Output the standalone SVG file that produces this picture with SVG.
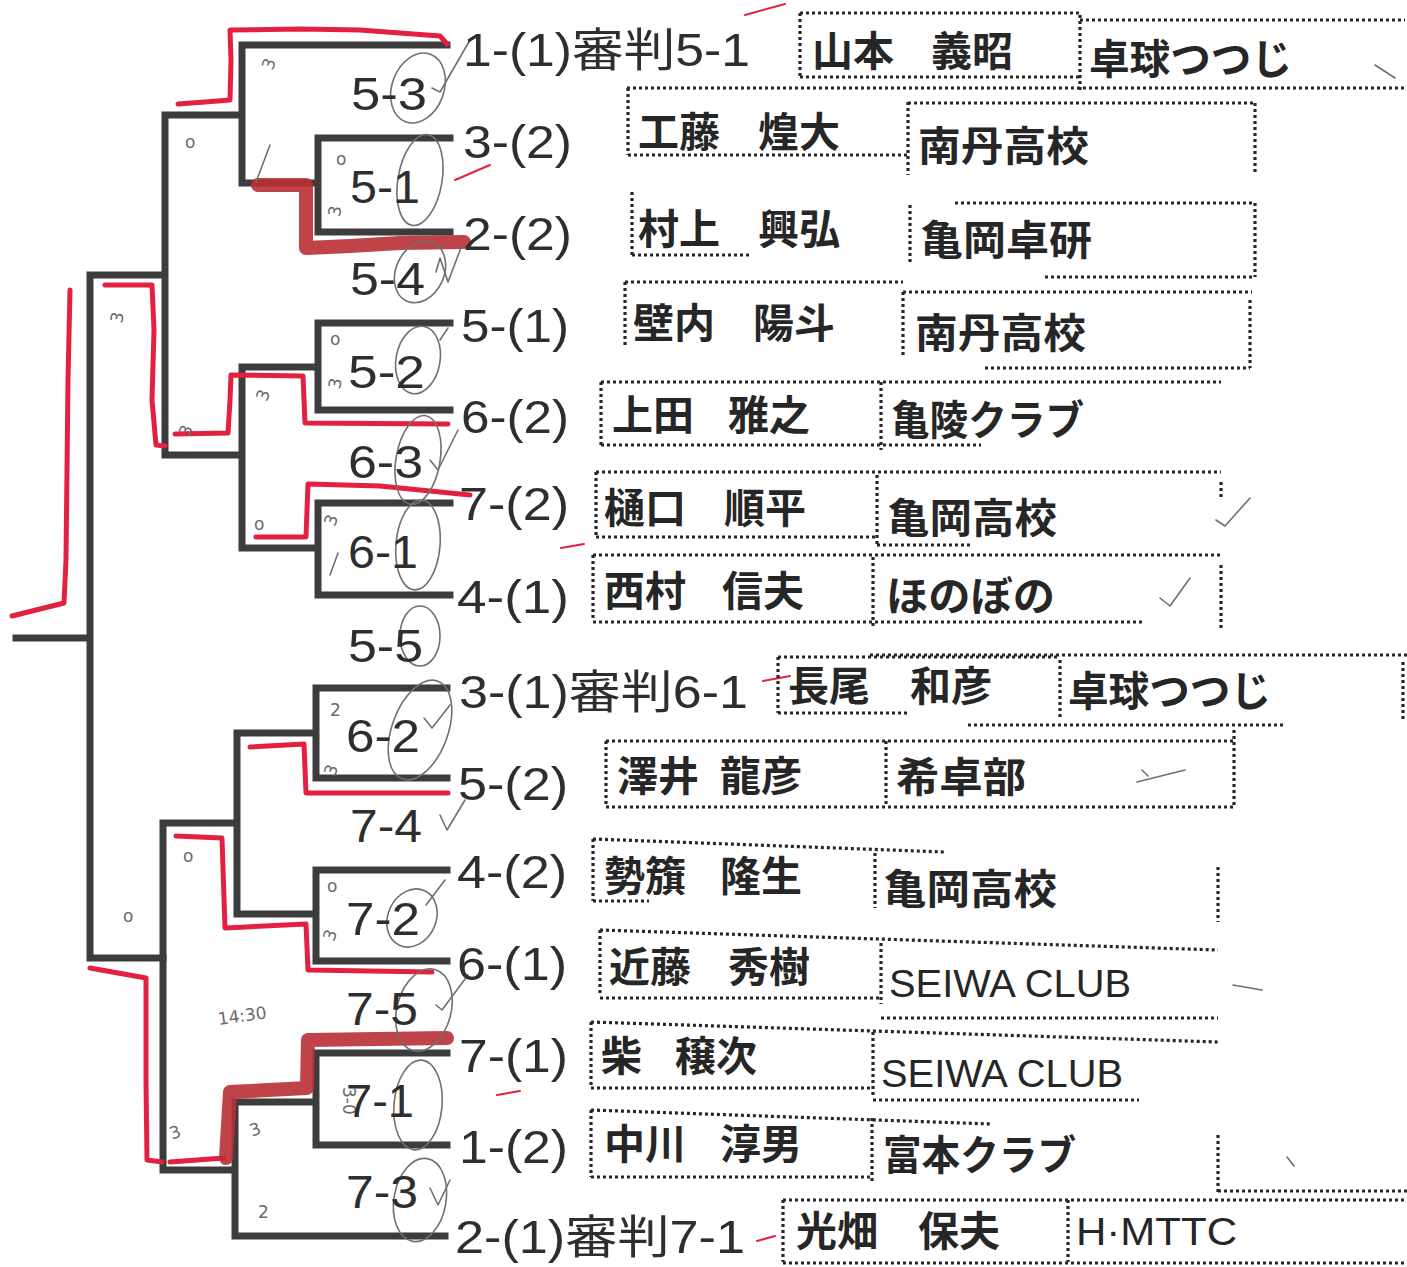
<svg xmlns="http://www.w3.org/2000/svg" width="1407" height="1267" viewBox="0 0 1407 1267">
<style>
.br{fill:none;stroke:#3c3c3c;stroke-width:7;stroke-linecap:square;stroke-linejoin:miter}
.red{fill:none;stroke:#e3203f;stroke-width:5;stroke-linecap:round;stroke-linejoin:round}
.redk{fill:none;stroke:#b92f34;stroke-width:14;stroke-linecap:round;stroke-linejoin:round;opacity:0.9}
.dot{fill:none;stroke:#262626;stroke-width:3.2;stroke-dasharray:3 3}
.seed{font-family:"Liberation Sans","Noto Sans CJK JP",sans-serif;font-size:46px;fill:#2e2e2e}
.mt{font-family:"Liberation Sans",sans-serif;font-size:46px;fill:#2e2e2e}
.nm{font-family:"Noto Sans CJK JP",sans-serif;font-size:41px;font-weight:700;fill:#262626}
.lat{font-family:"Liberation Sans",sans-serif;font-size:39px;fill:#262626}
.pen{fill:none;stroke:#707070;stroke-width:1.6;stroke-linecap:round;stroke-linejoin:round}
.hw{font-family:"DejaVu Sans",sans-serif;font-size:17px;fill:#6a6a6a}
.rt{fill:none;stroke:#e3203f;stroke-width:2;stroke-linecap:round}
</style>

<g id="connectors">
<path class="br" d="M447,45 H242 V183 H318 M450,138 H318 V232 H450 M242,115 H165 V455 H242 M165,275 H90 V958 H163 M90,638 H16 M450,323 H318 V410 H450 M318,367 H242 V548 H318 M450,503 H318 V595 H450"/>
<path class="br" d="M447,688 H316 V778 H447 M316,733 H237 V914 H316 M447,870 H316 V961 H447 M237,823 H163 V1170 H235 M447,1053 H316 V1145 H447 M316,1102 H235 V1236 H445"/>
</g>

<g id="red-marks">
<path class="red" d="M178,104 L205,102 L230,100 L231,60 L230,30 L300,29 L360,30 L400,33 L440,36 L447,44"/>
<path class="redk" d="M258,185 L306,185 L306,248 L350,246 L400,243 L464,242"/>
<path class="red" d="M12,616 L40,609 L64,603 L66,560 L67,470 L68,380 L70,290"/>
<path class="red" d="M105,285 L152,285 L154,330 L152,400 L156,445 L165,446"/>
<path class="red" d="M175,434 L228,433 L230,400 L231,375 L303,376 L305,423 L448,424"/>
<path class="red" d="M256,537 L306,537 L308,484 L380,486 L470,495"/>
<path class="red" d="M250,747 L304,744 L306,793 L448,793"/>
<path class="red" d="M176,836 L222,838 L225,928 L306,924 L308,970 L432,972"/>
<path class="red" d="M90,968 L146,978 L146,1080 L147,1160 L162,1162"/>
<path class="red" d="M170,1162 L224,1158"/>
<path class="redk" d="M226,1158 L230,1092 L307,1088 L308,1040 L447,1038"/>
</g>

<g id="handwriting">
<ellipse class="pen" cx="418" cy="88" rx="26" ry="36" transform="rotate(20 418 88)"/>
<path class="pen" d="M432,88 L440,92 L470,40"/>
<ellipse class="pen" cx="420" cy="180" rx="22" ry="46" transform="rotate(10 420 180)"/>
<ellipse class="pen" cx="420" cy="272" rx="24" ry="32" transform="rotate(25 420 272)"/>
<path class="pen" d="M436,272 L440,258 L448,282 L462,245"/>
<ellipse class="pen" cx="418" cy="360" rx="22" ry="34" transform="rotate(10 418 360)"/>
<path class="pen" d="M440,340 L448,328"/>
<ellipse class="pen" cx="418" cy="460" rx="22" ry="45" transform="rotate(10 418 460)"/>
<path class="pen" d="M430,460 L438,470 L458,430"/>
<ellipse class="pen" cx="418" cy="545" rx="22" ry="45" transform="rotate(5 418 545)"/>
<ellipse class="pen" cx="420" cy="636" rx="20" ry="30"/>
<ellipse class="pen" cx="420" cy="730" rx="28" ry="52" transform="rotate(20 420 730)"/>
<path class="pen" d="M424,718 L432,728 L450,705"/>
<path class="pen" d="M440,815 L447,830 L465,800"/>
<ellipse class="pen" cx="412" cy="918" rx="24" ry="30" transform="rotate(25 412 918)"/>
<path class="pen" d="M426,905 L445,880"/>
<ellipse class="pen" cx="424" cy="1010" rx="27" ry="42" transform="rotate(15 424 1010)"/>
<path class="pen" d="M436,1005 L442,1010 L468,975"/>
<ellipse class="pen" cx="418" cy="1105" rx="24" ry="45" transform="rotate(5 418 1105)"/>
<ellipse class="pen" cx="420" cy="1200" rx="26" ry="42" transform="rotate(10 420 1200)"/>
<path class="pen" d="M430,1188 L438,1205 L450,1180"/>
<path class="pen" d="M256,182 L270,145"/>
<path class="pen" d="M330,575 L338,553"/>
<path class="pen" d="M1216,520 L1225,526 L1250,498"/>
<path class="pen" d="M1160,598 L1170,606 L1190,578"/>
<path class="pen" d="M1137,782 L1185,770"/>
<path class="pen" d="M1142,770 L1148,776"/>
<path class="pen" d="M1233,985 L1262,990"/>
<path class="pen" d="M1375,65 L1395,78"/>
<path class="pen" d="M1287,1157 L1294,1166"/>
<text class="hw" x="262" y="70" transform="rotate(-70 268 63)">3</text>
<text class="hw" x="185" y="148">o</text>
<text class="hw" x="336" y="165">o</text>
<text class="hw" x="330" y="214" transform="rotate(-80 337 210)">3</text>
<text class="hw" x="112" y="322" transform="rotate(-80 118 317)">3</text>
<text class="hw" x="330" y="345">o</text>
<text class="hw" x="330" y="388" transform="rotate(-80 336 383)">3</text>
<text class="hw" x="258" y="400" transform="rotate(-70 264 395)">3</text>
<text class="hw" x="180" y="436" transform="rotate(-70 186 430)">3</text>
<text class="hw" x="254" y="530">o</text>
<text class="hw" x="326" y="525" transform="rotate(-70 332 520)">3</text>
<text class="hw" x="330" y="716">2</text>
<text class="hw" x="326" y="775" transform="rotate(-70 332 770)">3</text>
<text class="hw" x="183" y="862">o</text>
<text class="hw" x="123" y="922">o</text>
<text class="hw" x="327" y="892">o</text>
<text class="hw" x="325" y="940" transform="rotate(-70 331 935)">3</text>
<text class="hw" x="218" y="1025" transform="rotate(-8 218 1020)">14:30</text>
<text class="hw" x="320" y="1080" transform="rotate(90 328 1095)">3-0</text>
<text class="hw" x="170" y="1138" transform="rotate(-20 176 1133)">3</text>
<text class="hw" x="250" y="1135" transform="rotate(-20 256 1130)">3</text>
<text class="hw" x="258" y="1218">2</text>
<path class="rt" d="M455,180 L490,165"/>
<path class="rt" d="M745,15 L785,4"/>
<path class="rt" d="M561,548 L584,544"/>
<path class="rt" d="M497,1095 L520,1091"/>
<path class="rt" d="M763,681 L790,676"/>
<path class="rt" d="M757,1241 L775,1236"/>
</g>

<g id="match-labels">
<text class="mt" x="351" y="110" textLength="76" lengthAdjust="spacingAndGlyphs">5-3</text>
<text class="mt" x="350" y="203" textLength="70" lengthAdjust="spacingAndGlyphs">5-1</text>
<text class="mt" x="350" y="295" textLength="75" lengthAdjust="spacingAndGlyphs">5-4</text>
<text class="mt" x="348" y="388" textLength="77" lengthAdjust="spacingAndGlyphs">5-2</text>
<text class="mt" x="348" y="478" textLength="75" lengthAdjust="spacingAndGlyphs">6-3</text>
<text class="mt" x="348" y="568" textLength="70" lengthAdjust="spacingAndGlyphs">6-1</text>
<text class="mt" x="348" y="662" textLength="75" lengthAdjust="spacingAndGlyphs">5-5</text>
<text class="mt" x="346" y="752" textLength="74" lengthAdjust="spacingAndGlyphs">6-2</text>
<text class="mt" x="350" y="842" textLength="72" lengthAdjust="spacingAndGlyphs">7-4</text>
<text class="mt" x="346" y="935" textLength="74" lengthAdjust="spacingAndGlyphs">7-2</text>
<text class="mt" x="346" y="1025" textLength="72" lengthAdjust="spacingAndGlyphs">7-5</text>
<text class="mt" x="346" y="1117" textLength="68" lengthAdjust="spacingAndGlyphs">7-1</text>
<text class="mt" x="346" y="1208" textLength="72" lengthAdjust="spacingAndGlyphs">7-3</text>
</g>

<g id="player-1">
<text class="seed" x="463" y="66" textLength="287" lengthAdjust="spacingAndGlyphs">1-(1)審判5-1</text>
<path class="dot" d="M800,13 H1080 M1080,20 H1405 M800,13 V77 M800,77 H1080 M1080,15 V90 M627,88 H1407"/>
<text class="nm" x="812" y="66">山本</text><text class="nm" x="931" y="66">義昭</text>
<text class="nm" x="1089" y="74" textLength="203" lengthAdjust="spacingAndGlyphs">卓球つつじ</text>
</g>
<g id="player-2">
<text class="seed" x="463" y="158" textLength="109" lengthAdjust="spacingAndGlyphs">3-(2)</text>
<path class="dot" d="M628,88 V155 M628,155 H908 M908,102 V175 M908,103 H1255 M1255,103 V175"/>
<text class="nm" x="638" y="147">工藤</text><text class="nm" x="758" y="147">煌大</text>
<text class="nm" x="918" y="161" textLength="171" lengthAdjust="spacingAndGlyphs">南丹高校</text>
</g>
<g id="player-3">
<text class="seed" x="463" y="250" textLength="109" lengthAdjust="spacingAndGlyphs">2-(2)</text>
<path class="dot" d="M632,192 V255 M632,255 H750 M910,205 V265 M955,203 H1255 M1255,203 V277 M1045,277 H1255"/>
<text class="nm" x="638" y="244">村上</text><text class="nm" x="758" y="244">興弘</text>
<text class="nm" x="920" y="255" textLength="172" lengthAdjust="spacingAndGlyphs">亀岡卓研</text>
</g>
<g id="player-4">
<text class="seed" x="461" y="342" textLength="108" lengthAdjust="spacingAndGlyphs">5-(1)</text>
<path class="dot" d="M625,282 H903 M903,292 H1252 M625,282 V345 M903,292 V358 M1250,300 V368 M985,368 H1250"/>
<text class="nm" x="633" y="338">壁内</text><text class="nm" x="753" y="338">陽斗</text>
<text class="nm" x="915" y="348" textLength="171" lengthAdjust="spacingAndGlyphs">南丹高校</text>
</g>
<g id="player-5">
<text class="seed" x="461" y="433" textLength="108" lengthAdjust="spacingAndGlyphs">6-(2)</text>
<path class="dot" d="M601,382 H1221 M601,382 V445 M601,445 H981 M881,382 V450"/>
<text class="nm" x="612" y="430">上田</text><text class="nm" x="728" y="430">雅之</text>
<text class="nm" x="891" y="435" textLength="193" lengthAdjust="spacingAndGlyphs">亀陵クラブ</text>
</g>
<g id="player-6">
<text class="seed" x="459" y="520" textLength="110" lengthAdjust="spacingAndGlyphs">7-(2)</text>
<path class="dot" d="M596,472 H1221 M596,472 V537 M596,537 H877 M877,545 H970 M877,475 V545 M1221,482 V500"/>
<text class="nm" x="604" y="523">樋口</text><text class="nm" x="724" y="523">順平</text>
<text class="nm" x="887" y="533" textLength="170" lengthAdjust="spacingAndGlyphs">亀岡高校</text>
</g>
<g id="player-7">
<text class="seed" x="457" y="613" textLength="112" lengthAdjust="spacingAndGlyphs">4-(1)</text>
<path class="dot" d="M593,555 H1221 M593,555 V620 M593,622 H1144 M873,557 V628 M1221,565 V628"/>
<text class="nm" x="604" y="606">西村</text><text class="nm" x="722" y="606">信夫</text>
<text class="nm" x="886" y="611" textLength="169" lengthAdjust="spacingAndGlyphs">ほのぼの</text>
</g>
<g id="player-8">
<text class="seed" x="459" y="708" textLength="289" lengthAdjust="spacingAndGlyphs">3-(1)審判6-1</text>
<path class="dot" d="M778,657 H1060 M870,655 H1407 M778,657 V713 M778,713 H907 M968,725 H1284 M1060,660 V720 M1403,662 V720"/>
<text class="nm" x="788" y="701">長尾</text><text class="nm" x="910" y="701">和彦</text>
<text class="nm" x="1068" y="706" textLength="203" lengthAdjust="spacingAndGlyphs">卓球つつじ</text>
</g>
<g id="player-9">
<text class="seed" x="458" y="800" textLength="110" lengthAdjust="spacingAndGlyphs">5-(2)</text>
<path class="dot" d="M606,741 H1234 M606,741 V807 M606,807 H1234 M886,741 V807 M1234,730 V805"/>
<text class="nm" x="617" y="791">澤井</text><text class="nm" x="720" y="791">龍彦</text>
<text class="nm" x="896" y="792" textLength="130" lengthAdjust="spacingAndGlyphs">希卓部</text>
</g>
<g id="player-10">
<text class="seed" x="457" y="888" textLength="110" lengthAdjust="spacingAndGlyphs">4-(2)</text>
<path class="dot" d="M593,839 L944,852 M593,839 V901 M593,901 H649 M875,853 V908 M1218,867 V922"/>
<text class="nm" x="604" y="891">勢籏</text><text class="nm" x="720" y="891">隆生</text>
<text class="nm" x="883" y="904" textLength="174" lengthAdjust="spacingAndGlyphs">亀岡高校</text>
</g>
<g id="player-11">
<text class="seed" x="457" y="980" textLength="110" lengthAdjust="spacingAndGlyphs">6-(1)</text>
<path class="dot" d="M600,930 L1218,950 M600,930 V996 M600,998 H881 M881,943 V1004 M881,1018 H1218"/>
<text class="nm" x="609" y="982">近藤</text><text class="nm" x="728" y="982">秀樹</text>
<text class="lat" x="889" y="997" textLength="242" lengthAdjust="spacingAndGlyphs">SEIWA CLUB</text>
</g>
<g id="player-12">
<text class="seed" x="459" y="1072" textLength="109" lengthAdjust="spacingAndGlyphs">7-(1)</text>
<path class="dot" d="M591,1022 L1218,1042 M591,1022 V1086 M591,1088 H873 M873,1032 V1095 M873,1100 H1139"/>
<text class="nm" x="601" y="1071">柴</text><text class="nm" x="675" y="1071">穣次</text>
<text class="lat" x="881" y="1087" textLength="242" lengthAdjust="spacingAndGlyphs">SEIWA CLUB</text>
</g>
<g id="player-13">
<text class="seed" x="459" y="1163" textLength="109" lengthAdjust="spacingAndGlyphs">1-(2)</text>
<path class="dot" d="M591,1110 L991,1124 M591,1110 V1177 M591,1177 H872 M872,1118 V1182 M1218,1135 V1193 M1218,1191 H1407"/>
<text class="nm" x="604" y="1159">中川</text><text class="nm" x="720" y="1159">淳男</text>
<text class="nm" x="883" y="1170" textLength="193" lengthAdjust="spacingAndGlyphs">富本クラブ</text>
</g>
<g id="player-14">
<text class="seed" x="455" y="1253" textLength="290" lengthAdjust="spacingAndGlyphs">2-(1)審判7-1</text>
<path class="dot" d="M783,1200 H1407 M783,1200 V1262 M1068,1200 V1262 M783,1263 H1407"/>
<text class="nm" x="796" y="1246">光畑</text><text class="nm" x="918" y="1246">保夫</text>
<text class="lat" x="1076" y="1245" textLength="161" lengthAdjust="spacingAndGlyphs">H·MTTC</text>
</g>
</svg>
